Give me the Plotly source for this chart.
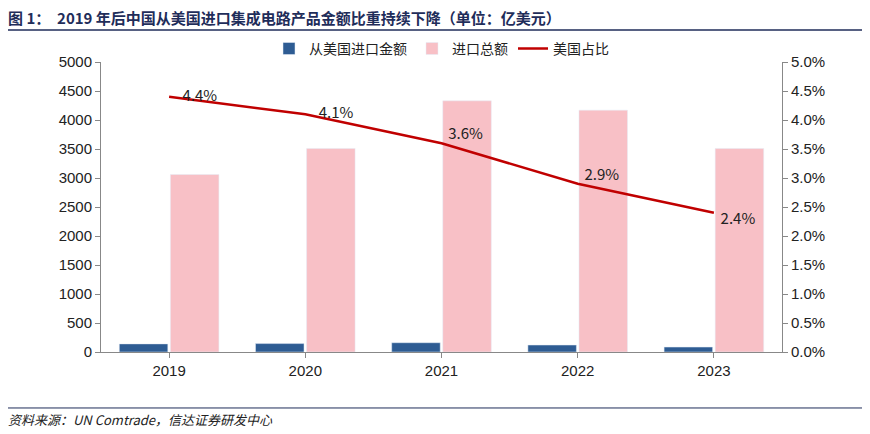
import plotly.graph_objects as go

years = ["2019", "2020", "2021", "2022", "2023"]
us_import = [140, 145, 160, 120, 85]
total_import = [3060, 3510, 4330, 4170, 3510]
us_share = [4.4, 4.1, 3.6, 2.9, 2.4]
share_labels = ["    4.4%", "    4.1%", "  3.6%", "  2.9%", "  2.4%"]
share_pos = ["middle right", "middle right", "top right", "top right", "bottom right"]

font = "Noto Sans CJK SC"
fig = go.Figure()
fig.add_bar(x=years, y=us_import, name="从美国进口金额", marker_color="#2E5C93")
fig.add_bar(x=years, y=total_import, name="进口总额", marker_color="#F8C0C6")
fig.add_scatter(x=years, y=us_share, name="美国占比", yaxis="y2", mode="lines+text",
                line=dict(color="#C00000", width=2.5), text=share_labels,
                textposition=share_pos, textfont=dict(size=15, color="#222"))

fig.update_layout(
    width=870, height=434, plot_bgcolor="white", paper_bgcolor="white",
    font=dict(family=font, size=14, color="#222"),
    margin=dict(l=93, r=96, t=54, b=90),
    barmode="group", bargap=0.25, bargroupgap=0.05,
    showlegend=True,
    legend=dict(orientation="h", x=0.5, xanchor="center", y=0.99, yanchor="bottom",
                font=dict(size=14), bgcolor="rgba(0,0,0,0)"),
    xaxis=dict(showline=True, linecolor="#888", ticks="outside", tickcolor="#888",
               tickfont=dict(size=15, family="Liberation Sans")),
    yaxis=dict(range=[0, 5000], dtick=500, showgrid=False, showline=True, linecolor="#888",
               ticks="outside", tickcolor="#888", tickfont=dict(size=15, family="Liberation Sans")),
    yaxis2=dict(range=[0, 5], dtick=0.5, overlaying="y", side="right", showgrid=False,
                showline=True, linecolor="#888", ticks="outside", tickcolor="#888",
                ticksuffix="%", tickformat=".1f", tickfont=dict(size=15, family="Liberation Sans")),
    annotations=[
        dict(text="<b>图 1：  2019 年后中国从美国进口集成电路产品金额比重持续下降（单位：亿美元）</b>",
             xref="paper", yref="paper", x=-0.14, y=1.155, xanchor="left", yanchor="middle",
             showarrow=False, font=dict(size=15, color="#1F2D5A")),
        dict(text="<i>资料来源：UN Comtrade，信达证券研发中心</i>",
             xref="paper", yref="paper", x=-0.14, y=-0.234, xanchor="left", yanchor="middle",
             showarrow=False, font=dict(size=13, color="#222")),
    ],
    shapes=[
        dict(type="line", xref="paper", yref="paper", x0=-0.14, x1=1.145, y0=1.11, y1=1.11,
             line=dict(color="#1F2D5A", width=1.5)),
        dict(type="line", xref="paper", yref="paper", x0=-0.14, x1=1.145, y0=-0.193, y1=-0.193,
             line=dict(color="#1F2D5A", width=1)),
    ],
)
fig.write_html("out.html")
